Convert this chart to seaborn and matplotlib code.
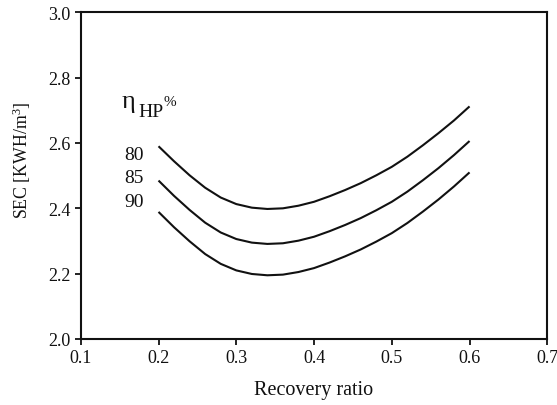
import numpy as np
import pandas as pd
import matplotlib
matplotlib.use("Agg")
import matplotlib.pyplot as plt
import seaborn as sns

recovery = [0.20, 0.22, 0.24, 0.26, 0.28, 0.30, 0.32, 0.34, 0.36, 0.38, 0.40,
            0.42, 0.44, 0.46, 0.48, 0.50, 0.52, 0.54, 0.56, 0.58, 0.60]
sec_80 = [2.590, 2.544, 2.501, 2.463, 2.433, 2.413, 2.402, 2.398, 2.400, 2.408, 2.420,
          2.437, 2.456, 2.477, 2.501, 2.527, 2.558, 2.593, 2.630, 2.669, 2.712]
sec_85 = [2.485, 2.438, 2.395, 2.356, 2.326, 2.306, 2.295, 2.291, 2.293, 2.301, 2.313,
          2.330, 2.349, 2.370, 2.394, 2.420, 2.451, 2.486, 2.523, 2.563, 2.606]
sec_90 = [2.389, 2.342, 2.299, 2.260, 2.230, 2.210, 2.199, 2.195, 2.197, 2.205, 2.217,
          2.234, 2.253, 2.274, 2.298, 2.324, 2.355, 2.390, 2.427, 2.467, 2.510]
efficiencies = ["80", "85", "90"]
x_ticks = [0.1, 0.2, 0.3, 0.4, 0.5, 0.6, 0.7]
y_ticks = [2.0, 2.2, 2.4, 2.6, 2.8, 3.0]

df = pd.concat([
    pd.DataFrame({"Recovery ratio": recovery, "SEC": s, "eff": e})
    for s, e in zip([sec_80, sec_85, sec_90], efficiencies)
])

sns.set_theme(style="ticks")
plt.rcParams["font.family"] = ["Liberation Serif", "DejaVu Serif"]
plt.rcParams["mathtext.fontset"] = "custom"
plt.rcParams["mathtext.rm"] = "Liberation Serif"
plt.rcParams["mathtext.it"] = "Liberation Serif"
plt.rcParams["mathtext.default"] = "regular"

ink = "#111111"
fig = plt.figure(figsize=(5.57, 4.06), dpi=100)
ax = fig.add_axes([0.145, 0.1626, 0.8376, 0.8046])

sns.lineplot(data=df, x="Recovery ratio", y="SEC", hue="eff",
             palette=[ink] * 3, legend=False, linewidth=1.5, ax=ax)
for ln in ax.lines:
    ln.set_solid_joinstyle("round")
    ln.set_solid_capstyle("butt")

ax.set_xlim(0.1, 0.7)
ax.set_ylim(2.0, 3.0)
ax.set_xticks(x_ticks)
ax.set_yticks(y_ticks)
ax.set_xticklabels([f"{t:.1f}" for t in x_ticks])
ax.set_yticklabels([f"{t:.1f}" for t in y_ticks])
ax.tick_params(direction="out", length=4, width=1.3, labelsize=13, colors=ink)
for s in ax.spines.values():
    s.set_linewidth(1.5)
    s.set_color(ink)
ax.set_xlabel("Recovery ratio", fontsize=14.5, labelpad=10, color=ink)
ax.set_ylabel("SEC [KWH/m$^3$]", fontsize=12.8, color=ink)
ax.yaxis.set_label_coords(-0.103, 0.55)

label_y = [2.566, 2.493, 2.421]
for e, yv in zip(efficiencies, label_y):
    ax.text(0.168, yv, e, fontsize=14, ha="center", va="center", color=ink)
ax.text(0.1525, 2.710, "η", fontsize=19, ha="left", va="baseline", color=ink)
ax.text(0.1737, 2.682, "HP", fontsize=14, ha="left", va="baseline", color=ink)
ax.text(0.2058, 2.716, "%", fontsize=11, ha="left", va="baseline", color=ink)

fig.savefig("out.png", dpi=100)
